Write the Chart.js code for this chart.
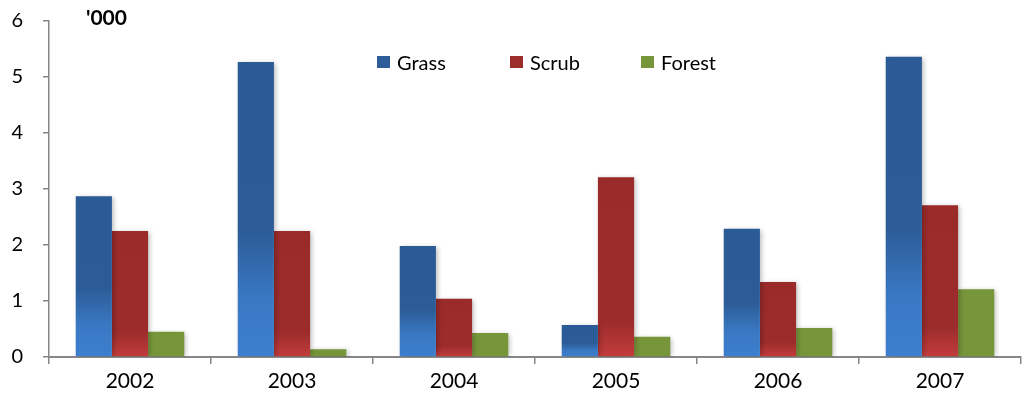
<!DOCTYPE html>
<html><head><meta charset="utf-8">
<script src="https://cdn.jsdelivr.net/npm/chart.js@4"></script>
<style>
html,body{margin:0;padding:0;background:#fff;}
#wrap{position:relative;width:1022px;height:405px;}
canvas{position:absolute;left:0;top:0;}
.unit{position:absolute;left:86px;top:5px;font:bold 21px Lato, "Liberation Sans", sans-serif;color:#000;line-height:24px;}
.leg{position:absolute;top:50px;height:24px;line-height:24px;font:20px Lato, "Liberation Sans", sans-serif;color:#000;display:flex;align-items:center;}
.leg span.box{display:inline-block;width:13px;height:12px;margin-right:7px;}
</style></head>
<body>
<div id="wrap">
<canvas id="c" width="1022" height="405"></canvas>
<div class="unit">'000</div>
<div class="leg" style="left:377px"><span class="box" style="background:#2C5D98"></span>Grass</div>
<div class="leg" style="left:510px"><span class="box" style="background:#9B2D2B"></span>Scrub</div>
<div class="leg" style="left:641px"><span class="box" style="background:#77963A"></span>Forest</div>
</div>
<script>
const categories = ["2002","2003","2004","2005","2006","2007"];
const grass  = [2.87, 5.27, 1.98, 0.57, 2.29, 5.36];
const scrub  = [2.25, 2.25, 1.04, 3.21, 1.34, 2.71];
const forest = [0.45, 0.14, 0.43, 0.36, 0.52, 1.21];
const yTicks = [0,1,2,3,4,5,6];

function grad(stops, solid){
  return function(ctx){
    const chart = ctx.chart;
    if (!chart.chartArea || ctx.type !== 'data') return solid;
    const y = chart.scales.y;
    const v = ctx.raw;
    const y0 = y.getPixelForValue(0), y1 = y.getPixelForValue(v);
    if (!isFinite(y0) || !isFinite(y1) || y0 === y1) return solid;
    const g = chart.ctx.createLinearGradient(0, y0, 0, y1);
    stops.forEach(s => g.addColorStop(s[0], s[1]));
    return g;
  };
}

const shadow = {
  id:'shadow',
  beforeDatasetsDraw(chart){
    const c = chart.ctx; c.save();
    c.shadowColor='rgba(0,0,0,0.28)'; c.shadowBlur=5; c.shadowOffsetX=2; c.shadowOffsetY=1;
  },
  afterDatasetsDraw(chart){ chart.ctx.restore(); }
};

new Chart(document.getElementById('c'), {
  type:'bar',
  data:{
    labels: categories,
    datasets:[
      {label:'Grass', data:grass, backgroundColor: grad([[0,'#3D7FCE'],[0.2,'#3978C3'],[0.43,'#2C5C97'],[1,'#2B5B96']], '#2C5D98')},
      {label:'Scrub', data:scrub, backgroundColor: grad([[0,'#C43C3C'],[0.2,'#9B2C2B'],[1,'#9A2B2A']], '#9B2D2B')},
      {label:'Forest', data:forest, backgroundColor:'#77963A'}
    ]
  },
  plugins:[shadow],
  options:{
    responsive:false,
    animation:false,
    devicePixelRatio:1,
    layout:{padding:{top:21,right:1,left:0,bottom:0}},
    plugins:{legend:{display:false}, tooltip:{enabled:false}},
    datasets:{bar:{categoryPercentage:0.67, barPercentage:1.0, borderWidth:0}},
    scales:{
      x:{
        grid:{display:true, drawOnChartArea:false, tickLength:7, color:'#868686', lineWidth:1.5, offset:true},
        border:{color:'#868686', width:2},
        ticks:{color:'#000', font:{family:'Lato', size:21}, padding:5},
        afterFit(s){ s.height = 48; s.paddingLeft = 0; s.paddingRight = 0; }
      },
      y:{
        min:0, max:6,
        afterBuildTicks(s){ s.ticks = yTicks.map(v=>({value:v})); },
        grid:{display:true, drawOnChartArea:false, tickLength:6, color:'#868686', lineWidth:1.5},
        border:{color:'#868686', width:1.5},
        ticks:{color:'#000', font:{family:'Lato', size:20}, padding:20},
        afterFit(s){ s.width = 49; s.paddingTop = 0; s.paddingBottom = 0; }
      }
    }
  }
});
</script>
</body></html>
